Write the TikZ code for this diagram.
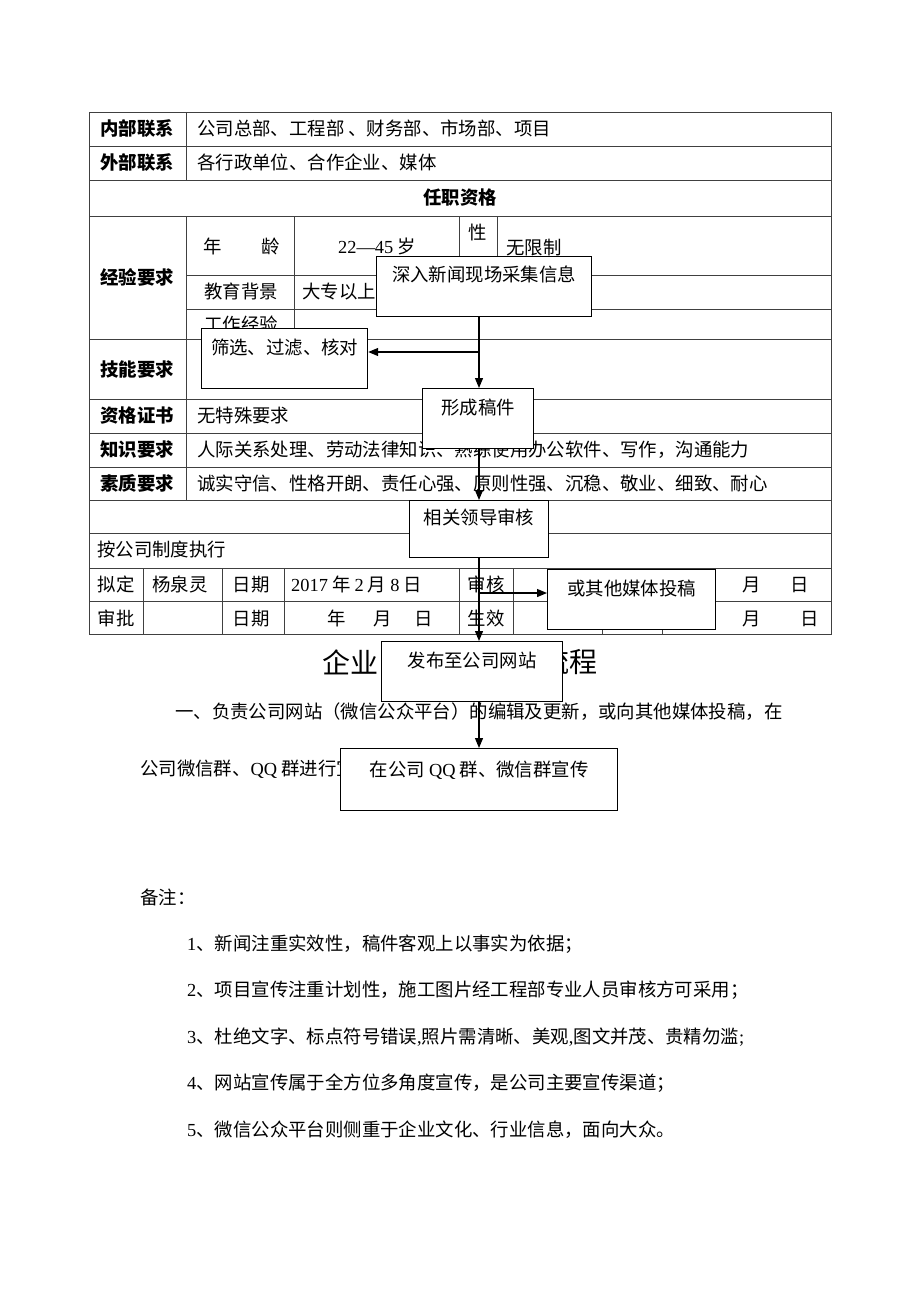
\documentclass[tikz,border=0pt]{standalone}
\usepackage{fontspec}
\setmainfont{Liberation Serif}
\newfontfamily\cjk{Noto Sans CJK SC}
\usepackage{tikz}
\usetikzlibrary{arrows.meta}
\newcommand\fs{\fontsize{18.4pt}{22pt}\selectfont}
\newcommand\lat[1]{{\rmfamily #1}}

\begin{document}
\begin{tikzpicture}[x=1pt, y=-1pt,
  grid/.style={draw=black!75, line width=0.9pt},
  cell/.style={font=\cjk\fs, inner sep=0pt, text height=14pt, text depth=2pt},
  head/.style={cell, font=\cjk\fs\bfseries},
  txt/.style={cell, anchor=west},
  flowbox/.style={draw, fill=white, line width=1.2pt, inner sep=0pt, anchor=north west, font=\cjk\fs},
  flow/.style={line width=1.2pt, -{Triangle[length=10pt,width=8pt]}}
  ]
  \useasboundingbox (0,0) rectangle (920,1302);

  % Table
  \draw[grid] (89,112) rectangle (831,634);
  \foreach \y in {146,180,216,339,399,433,467,500,533,568,601}
    \draw[grid] (89,\y) -- (831,\y);
  \foreach \y in {275,309}
    \draw[grid] (186,\y) -- (831,\y);
  \draw[grid] (186,112) -- (186,180) (186,216) -- (186,500);
  \draw[grid] (294,216) -- (294,339);
  \draw[grid] (459,216) -- (459,275) (497,216) -- (497,275);
  \foreach \x in {143,222,284,459,513,602,662}
    \draw[grid] (\x,568) -- (\x,634);

  \node[head] (inner) at (137,129) {内部联系};
  \node[txt] (innerv) at (197,129) {公司总部、工程部 、财务部、市场部、项目};
  \node[head] (outer) at (137,163) {外部联系};
  \node[txt] (outerv) at (197,163) {各行政单位、合作企业、媒体};
  \node[head] (qual) at (460,198) {任职资格};
  \node[head] (exp) at (137,278) {经验要求};
  \node[cell] (agea) at (213,247) {年};
  \node[cell] (ageb) at (271,247) {龄};
  \node[cell] (agev) at (377,247) {\lat{22—45} 岁};
  \node[cell] (sex) at (478,233) {性};
  \node[txt] (sexv) at (506,248) {无限制};
  \node[cell] (edu) at (241,292) {教育背景};
  \node[txt] (eduv) at (302,292) {大专以上};
  \node[cell] (work) at (241,325) {工作经验};
  \node[head] (skill) at (137,370) {技能要求};
  \node[head] (cert) at (137,416) {资格证书};
  \node[txt] (certv) at (197,416) {无特殊要求};
  \node[head] (know) at (137,450) {知识要求};
  \node[txt] (knowv) at (197,450) {人际关系处理、劳动法律知识、熟练使用办公软件、写作，沟通能力};
  \node[head] (qlty) at (137,484) {素质要求};
  \node[txt] (qltyv) at (197,484) {诚实守信、性格开朗、责任心强、原则性强、沉稳、敬业、细致、耐心};
  \node[txt] (rule) at (97,550) {按公司制度执行};

  \node[cell] (draftby) at (116,585) {拟定};
  \node[cell] (drafter) at (180,585) {杨泉灵};
  \node[cell] (datea) at (251,585) {日期};
  \node[txt] (dateav) at (291,585) {\lat{2017} 年 \lat{2} 月 \lat{8} 日};
  \node[cell] (check) at (486,585) {审核};
  \node[cell] (checkm) at (752,585) {月};
  \node[cell] (checkd) at (800,585) {日};
  \node[cell] (apprv) at (116,619) {审批};
  \node[cell] (dateb) at (251,619) {日期};
  \node[cell] (datey) at (337,619) {年};
  \node[cell] (datem) at (383,619) {月};
  \node[cell] (dated) at (424,619) {日};
  \node[cell] (valid) at (486,619) {生效};
  \node[cell] (validm) at (752,619) {月};
  \node[cell] (validd) at (810,619) {日};

  % Title and text
  \node[anchor=west, inner sep=0pt, font=\cjk\fontsize{28pt}{32pt}\selectfont] (titlea) at (322,662) {企业};
  \node[anchor=east, inner sep=0pt, font=\cjk\fontsize{28pt}{32pt}\selectfont] (titleb) at (598,662) {流程};
  \node[txt] (para1) at (175,712) {一、负责公司网站（微信公众平台）的编辑及更新，或向其他媒体投稿，在};
  \node[txt] (para2) at (140,769) {公司微信群、\lat{QQ} 群进行宣传。};

  \node[txt] (remark) at (140,898) {备注：};
  \node[txt] (note1) at (187,944) {\lat{1}、新闻注重实效性，稿件客观上以事实为依据；};
  \node[txt] (note2) at (187,990) {\lat{2}、项目宣传注重计划性，施工图片经工程部专业人员审核方可采用；};
  \node[txt] (note3) at (187,1037) {\lat{3}、杜绝文字、标点符号错误\lat{,}照片需清晰、美观\lat{,}图文并茂、贵精勿滥\lat{;}};
  \node[txt] (note4) at (187,1083) {\lat{4}、网站宣传属于全方位多角度宣传，是公司主要宣传渠道；};
  \node[txt] (note5) at (187,1130) {\lat{5}、微信公众平台则侧重于企业文化、行业信息，面向大众。};

  % Flow boxes
  \node[flowbox, minimum width=215pt, text height=25pt, text depth=35pt] (collect) at (376,256) {深入新闻现场采集信息};
  \node[flowbox, minimum width=166pt, text height=26pt, text depth=34pt] (filter) at (201,328) {筛选、过滤、核对};
  \node[flowbox, minimum width=111pt, text height=26pt, text depth=34pt] (draft) at (422,388) {形成稿件};
  \node[flowbox, minimum width=139pt, text height=24pt, text depth=33pt] (review) at (409,500) {相关领导审核};
  \node[flowbox, minimum width=168pt, text height=26pt, text depth=34pt] (media) at (547,569) {或其他媒体投稿};
  \node[flowbox, minimum width=181pt, text height=26pt, text depth=34pt] (publish) at (381,641) {发布至公司网站};
  \node[flowbox, minimum width=277pt, text height=28pt, text depth=34pt] (promote) at (340,748) {在公司 \lat{QQ} 群、微信群宣传};

  % Arrows
  \coordinate (spine) at (479,0);
  \coordinate (fork1) at (479,352);
  \coordinate (fork2) at (479,593);
  \draw[flow] (spine |- collect.south) -- (spine |- draft.north);
  \draw[flow] (fork1) -- (fork1 -| filter.east);
  \draw[flow] (spine |- draft.south) -- (spine |- review.north);
  \draw[flow] (spine |- review.south) -- (spine |- publish.north);
  \draw[flow] (fork2) -- (fork2 -| media.west);
  \draw[flow] (spine |- publish.south) -- (spine |- promote.north);

\end{tikzpicture}
\end{document}
